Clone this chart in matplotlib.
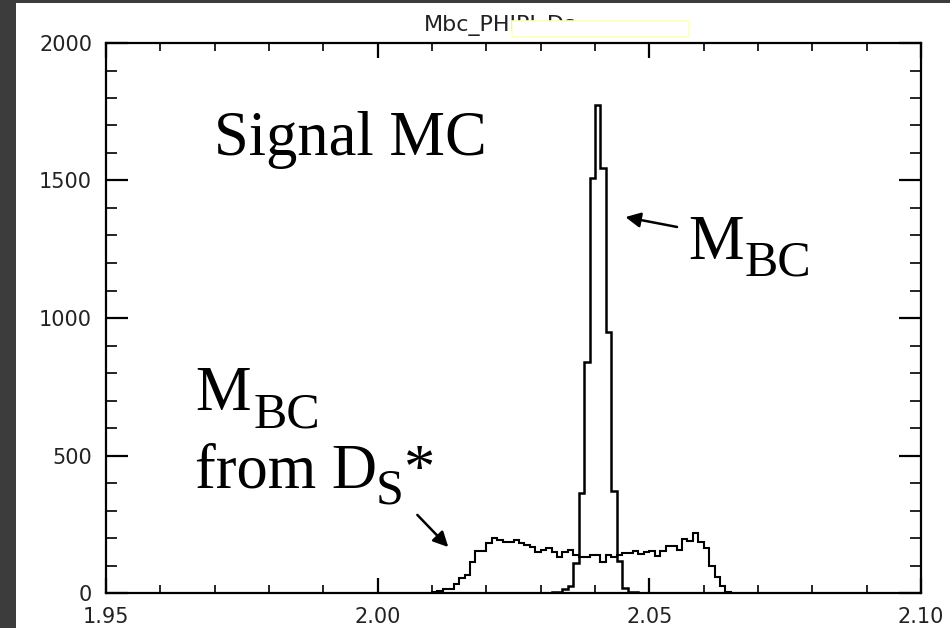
import numpy as np
import matplotlib
matplotlib.use("Agg")
import matplotlib.pyplot as plt
from matplotlib.patches import Rectangle

# bin width of both histograms
bin_w = 0.001

# M_BC signal peak, first bin starts at 2.030
peak_start = 2.030
peak_counts = [1, 1, 2, 3, 13, 25, 108, 364, 840, 1509, 1775, 1545, 949,
               370, 115, 18, 5, 4, 0]

# M_BC computed from D_s*, first bin starts at 2.010
broad_start = 2.010
broad_counts = [3, 6, 13, 13, 33, 53, 65, 114, 154, 154, 181, 201, 193, 184,
                187, 193, 183, 175, 166, 150, 156, 162, 150, 132, 150, 156,
                138, 132, 132, 140, 140, 114, 140, 132, 140, 147, 147, 154,
                143, 150, 151, 136, 153, 172, 170, 156, 196, 190, 217, 187,
                162, 98, 59, 25, 4]

x_ticks = [1.95, 2.00, 2.05, 2.10]
x_labels = ["1.95", "2.00", "2.05", "2.10"]
y_ticks = [0, 500, 1000, 1500, 2000]
y_labels = ["0", "500", "1000", "1500", "2000"]

W, H = 950, 628


def fx(px):
    return px / W


def fy(py):
    return 1 - py / H


fig = plt.figure(figsize=(9.5, 6.28), dpi=100)
fig.patch.set_facecolor("#3c3c3c")
# white page, dark strip left and top
fig.patches.append(Rectangle((fx(16), 0), 1 - fx(16), fy(3), transform=fig.transFigure,
                             facecolor="white", edgecolor="none", zorder=-1))

ax = fig.add_axes([fx(106), fy(593), fx(921) - fx(106), fy(43) - fy(593)])
ax.set_facecolor("white")

peak_edges = peak_start + bin_w * np.arange(len(peak_counts) + 1)
broad_edges = broad_start + bin_w * np.arange(len(broad_counts) + 1)
ax.stairs(broad_counts, broad_edges, color="black", lw=1.5, baseline=0)
ax.stairs(peak_counts, peak_edges, color="black", lw=1.8, baseline=0)

ax.set_xlim(1.95, 2.10)
ax.set_ylim(0, 2000)
ax.set_xticks(x_ticks)
ax.set_xticklabels(x_labels)
ax.set_yticks(y_ticks)
ax.set_yticklabels(y_labels)
ax.set_xticks(np.arange(1.95, 2.1001, 0.01), minor=True)
ax.set_yticks(np.arange(0, 2001, 100), minor=True)

for s in ax.spines.values():
    s.set_linewidth(1.6)

ax.tick_params(axis="x", which="major", direction="in", top=True, length=11,
               width=1.6, labelsize=15, pad=10)
ax.tick_params(axis="x", which="minor", direction="in", top=True, length=5.5,
               width=1.2)
ax.tick_params(axis="y", which="major", direction="in", right=True, length=16,
               width=1.6, labelsize=15, pad=10)
ax.tick_params(axis="y", which="minor", direction="in", right=True, length=8,
               width=1.2)
for lab in ax.get_xticklabels() + ax.get_yticklabels():
    lab.set_family("DejaVu Sans")
    lab.set_color("#222222")

# histogram title, partly hidden by an empty box
fig.text(fx(424), fy(31), "Mbc_PHIPI_Ds", ha="left", va="baseline",
         fontsize=16, family="DejaVu Sans", color="#222222")
fig.patches.append(Rectangle((fx(512), fy(37)), fx(689) - fx(512), fy(21) - fy(37),
                             transform=fig.transFigure, facecolor="white",
                             edgecolor="#ffffc0", lw=1.2, zorder=5))

serif = "Liberation Serif"
big, small = 45, 36
fig.text(fx(214), fy(155), "Signal MC", fontsize=big, family=serif, va="baseline")

# right label
fig.text(fx(688), fy(259), "M", fontsize=big, family=serif, va="baseline")
fig.text(fx(745), fy(276), "BC", fontsize=small, family=serif, va="baseline")

# left label
fig.text(fx(195), fy(410), "M", fontsize=big, family=serif, va="baseline")
fig.text(fx(254), fy(427), "BC", fontsize=small, family=serif, va="baseline")
fig.text(fx(195), fy(488), "from D", fontsize=big, family=serif, va="baseline")
fig.text(fx(376), fy(503), "S", fontsize=small, family=serif, va="baseline")
fig.text(fx(404), fy(488), "*", fontsize=big, family=serif, va="baseline")

# arrows
ax.annotate("", xy=(2.0456, 1367), xytext=(2.0551, 1331),
            arrowprops=dict(arrowstyle="-|>,head_length=0.9,head_width=0.45",
                            color="black", lw=1.8, shrinkA=0, shrinkB=0))
ax.annotate("", xy=(2.0130, 167), xytext=(2.0073, 284),
            arrowprops=dict(arrowstyle="-|>,head_length=0.9,head_width=0.45",
                            color="black", lw=1.8, shrinkA=0, shrinkB=0))

fig.savefig("out.png", dpi=100, facecolor=fig.get_facecolor())
